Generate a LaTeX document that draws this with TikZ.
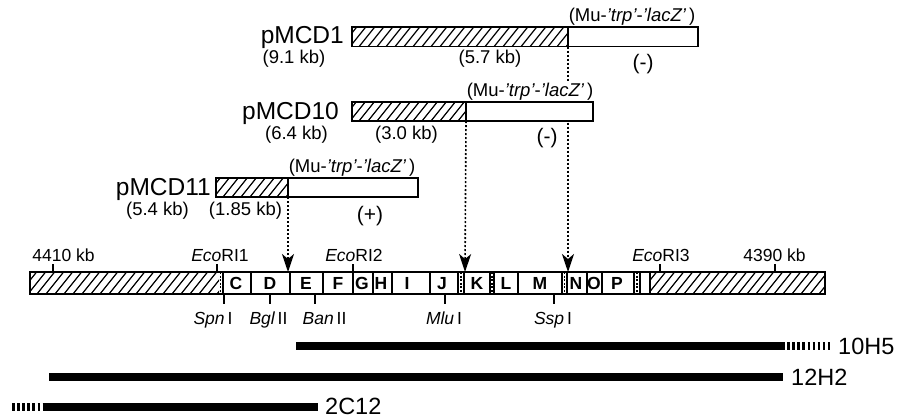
\documentclass[tikz,border=0pt]{standalone}
\usepackage{fontspec}
\setmainfont{Liberation Sans}
\usetikzlibrary{arrows.meta}
\newcommand\hatchfill[4]{%
  \begin{scope}
    \clip (#1,#2) rectangle (#3,#4);
    \foreach \k in {0,...,27}{
      \draw[hatchln] (#1-20+9*\k,#4) -- (#1-20+9*\k+0.8*#4-0.8*#2,#2);
    }
  \end{scope}}
\begin{document}
\begin{tikzpicture}[x=1pt,y=-1pt,
  boxln/.style={line width=1.5pt},
  hatchln/.style={line width=1.2pt},
  tickln/.style={line width=1.5pt},
  gapln/.style={line width=1.5pt, dash pattern=on 2pt off 1.6pt},
  dotarrow/.style={line width=1.6pt, dash pattern=on 2pt off 2pt,
    -{Stealth[length=18pt,width=12pt,inset=5pt]}},
  clonebar/.style={line width=8pt},
  clonedash/.style={line width=8pt, dash pattern=on 2.5pt off 2.6pt},
  pname/.style={inner sep=0pt, anchor=base east, font=\fontsize{24.5}{26}\selectfont},
  kb/.style={inner sep=0pt, anchor=base, font=\fontsize{18.5}{20}\selectfont},
  mu/.style={inner sep=0.6pt, anchor=base west, fill=white, font=\fontsize{18.5}{20}\selectfont},
  sign/.style={inner sep=0pt, anchor=base, font=\fontsize{21}{23}\selectfont},
  seg/.style={inner sep=0pt, anchor=base, font=\bfseries\fontsize{17.5}{19}\selectfont},
  site/.style={inner sep=0pt, anchor=base, font=\fontsize{17.5}{19}\selectfont},
  clonelbl/.style={inner sep=0pt, anchor=base west, font=\fontsize{23.5}{26}\selectfont},
]
\useasboundingbox (0,0) rectangle (897,418);

% junction and target coordinates
\coordinate (j1) at (568,46.7);
\coordinate (j10) at (466,121);
\coordinate (j11) at (288,197);
\coordinate (t1) at (568,272);
\coordinate (t10) at (465,272);
\coordinate (t11) at (288,272);

% dotted arrows
\draw[dotarrow] (j1) -- (t1);
\draw[dotarrow] (j10) -- (t10);
\draw[dotarrow] (j11) -- (t11);

% pMCD1
\fill[white] (352,27) rectangle (698,46.7);
\hatchfill{352}{27}{568}{46.7}
\draw[boxln] (352,27) rectangle (698,46.7);
\draw[boxln] (568,27) -- (568,46.7);
\node[pname] (p1) at (344,43) {pMCD1};
\node[kb] (p1size) at (294,63) {(9.1 kb)};
\node[kb] (p1frag) at (490,63) {(5.7 kb)};
\node[sign] (p1sign) at (643,69) {(-)};
\node[mu] (p1mu) at (568,21.5) {(Mu-{\itshape 'trp'}-{\itshape 'lacZ'}\,)};

% pMCD10
\fill[white] (352,102) rectangle (593,121);
\hatchfill{352}{102}{466}{121}
\draw[boxln] (352,102) rectangle (593,121);
\draw[boxln] (466,102) -- (466,121);
\node[pname] (p10) at (339,119.5) {pMCD10};
\node[kb] (p10size) at (296.5,139) {(6.4 kb)};
\node[kb] (p10frag) at (406.5,139) {(3.0 kb)};
\node[sign] (p10sign) at (547,143) {(-)};
\node[mu] (p10mu) at (466,96.5) {(Mu-{\itshape 'trp'}-{\itshape 'lacZ'}\,)};

% pMCD11
\fill[white] (216,178) rectangle (418,197);
\hatchfill{216}{178}{288}{197}
\draw[boxln] (216,178) rectangle (418,197);
\draw[boxln] (288,178) -- (288,197);
\node[pname] (p11) at (211,195) {pMCD11};
\node[kb] (p11size) at (157.5,215) {(5.4 kb)};
\node[kb] (p11frag) at (245.5,215) {(1.85 kb)};
\node[sign] (p11sign) at (370,221) {(+)};
\node[mu] (p11mu) at (288,172.5) {(Mu-{\itshape 'trp'}-{\itshape 'lacZ'}\,)};

% main chromosome bar
\fill[white] (30,272) rectangle (825,294);
\hatchfill{30}{272}{219}{294}
\hatchfill{650}{272}{825}{294}
\foreach \bx in {223,251,290,323,353,373,392,430,458,464,490,494,518,562,567,587,602,634,640,650}
  \draw[boxln] (\bx,272) -- (\bx,294);
\foreach \bx in {220.5,461,492,564.5,637}
  \draw[gapln] (\bx,272) -- (\bx,294);
\draw[boxln] (30,272) rectangle (825,294);
\foreach \L/\lx in {C/236,D/270,E/306,F/338,G/362,H/381,I/407,J/442,K/477,L/506,M/540,N/576,O/594,P/617}
  \node[seg] (seg\L) at (\lx,289.5) {\L};

% ticks above
\draw[tickln] (53,264) -- (53,272);
\draw[tickln] (217,264) -- (217,272);
\draw[tickln] (353,264) -- (353,272);
\draw[tickln] (660,264) -- (660,272);
\draw[tickln] (775,264) -- (775,272);
\node[site] (kbL) at (63.5,261.5) {4410 kb};
\node[site] (eco1) at (220,261.5) {{\itshape Eco}RI1};
\node[site] (eco2) at (354,261.5) {{\itshape Eco}RI2};
\node[site] (eco3) at (661,261.5) {{\itshape Eco}RI3};
\node[site] (kbR) at (774.5,261.5) {4390 kb};

% ticks below
\draw[tickln] (224,294) -- (224,304);
\draw[tickln] (270,294) -- (270,304);
\draw[tickln] (315,294) -- (315,304);
\draw[tickln] (445,294) -- (445,304);
\draw[tickln] (554,294) -- (554,304);
\node[site] (spn) at (213,324.5) {{\itshape Spn}\,I};
\node[site] (bgl) at (268.5,324.5) {{\itshape Bgl}\,II};
\node[site] (ban) at (324.5,324.5) {{\itshape Ban}\,II};
\node[site] (mlu) at (444,324.5) {{\itshape Mlu}\,I};
\node[site] (ssp) at (553,324.5) {{\itshape Ssp}\,I};

% clones
\coordinate (a1) at (296,346);
\coordinate (a2) at (782,346);
\coordinate (a3) at (830,346);
\draw[clonebar] (a1) -- (a2);
\draw[clonedash] (a2) -- (a3);
\node[clonelbl] (c10H5) at (838,354) {10H5};

\coordinate (b1) at (49,377);
\coordinate (b2) at (783,377);
\draw[clonebar] (b1) -- (b2);
\node[clonelbl] (c12H2) at (791,385.5) {12H2};

\coordinate (d0) at (12,407);
\coordinate (d1) at (43,407);
\coordinate (d2) at (318,407);
\draw[clonedash] (d0) -- (d1);
\draw[clonebar] (d1) -- (d2);
\node[clonelbl] (c2C12) at (325,414) {2C12};
\end{tikzpicture}
\end{document}
